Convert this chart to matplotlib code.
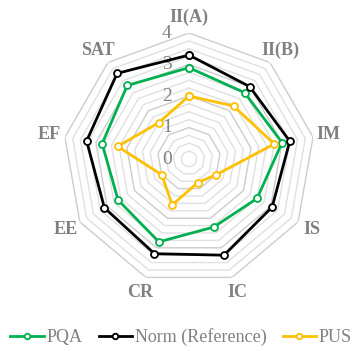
import numpy as np
import matplotlib
matplotlib.use("Agg")
import matplotlib.pyplot as plt
import matplotlib.transforms as mtransforms

categories = ["II(A)", "II(B)", "IM", "IS", "IC", "CR", "EE", "EF", "SAT"]
pqa = [2.9, 2.75, 3.0, 2.5, 2.3, 2.8, 2.6, 2.8, 3.05]
norm = [3.3, 3.0, 3.25, 3.05, 3.25, 3.2, 3.1, 3.3, 3.55]
pus = [2.0, 2.2, 2.75, 1.0, 0.8, 1.55, 1.0, 2.3, 1.5]
r_ticks = [0, 1, 2, 3, 4]
series_names = ["PQA", "Norm (Reference)", "PUS"]
colors = ["#00B050", "#000000", "#FFC000"]

plt.rcParams["font.family"] = ["Liberation Serif", "DejaVu Serif"]
grey = "#808080"

fig = plt.figure(figsize=(3.62, 3.51), dpi=100)
ax = fig.add_axes([0.174, 0.188, 0.696, 0.718], projection="polar")
ax.set_theta_offset(np.pi / 2)
ax.set_theta_direction(-1)
ax.set_ylim(0, 4)
ax.grid(False)
ax.spines["polar"].set_visible(False)
ax.set_xticks([])
ax.set_yticks([])
ax.patch.set_alpha(0)

n = len(categories)
theta = np.linspace(0, 2 * np.pi, n, endpoint=False)
theta_c = np.append(theta, theta[0])

# polygon gridlines
for k in range(1, 17):
    rv = k * 0.25
    major = (k % 4 == 0)
    ax.plot(theta_c, [rv] * (n + 1), color="#cccccc" if major else "#e0e0e0",
            lw=1.0, zorder=1, solid_joinstyle="miter")

for vals, c, name in zip([pqa, norm, pus], colors, series_names):
    v = np.append(vals, vals[0])
    ax.plot(theta_c, v, color=c, lw=2.0, marker="o", ms=5, mfc="white",
            mec=c, mew=1.3, label=name, zorder=3)

for t, lab in zip(theta, categories):
    ax.text(t, 4.5, lab, ha="center", va="center", fontsize=13,
            fontweight="bold", color=grey, clip_on=False)

off = mtransforms.offset_copy(ax.transData, fig=fig, x=-22, y=0, units="dots")
for rv in r_ticks:
    ax.text(0, rv, str(rv), transform=off, ha="center", va="center",
            fontsize=14, color=grey, zorder=2)

leg = fig.legend(loc="center", bbox_to_anchor=(0.5, 0.04), ncol=3,
                 frameon=False, fontsize=13, handlelength=1.85,
                 handletextpad=0.15, columnspacing=0.9, markerscale=0.8)
for t in leg.get_texts():
    t.set_color(grey)

fig.savefig("out.png", dpi=100)
